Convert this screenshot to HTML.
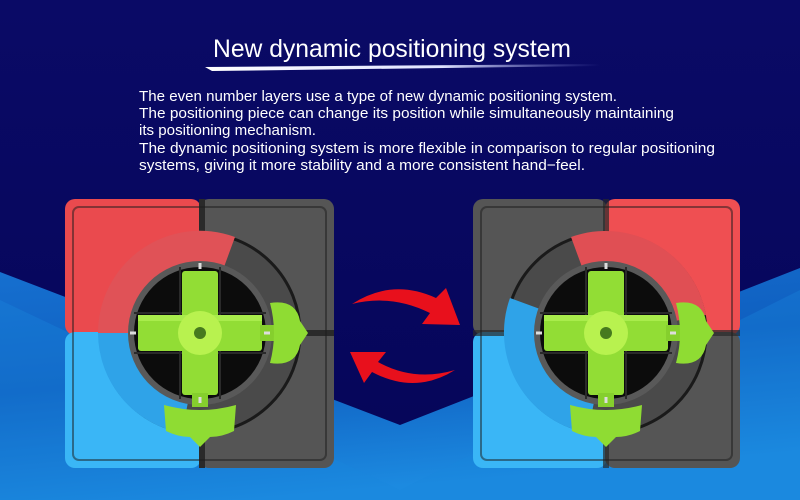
<!DOCTYPE html>
<html><head><meta charset="utf-8"><style>
html,body{margin:0;padding:0;background:#06065e;}
svg{display:block;}
</style></head><body>
<svg width="800" height="500" viewBox="0 0 800 500" xmlns="http://www.w3.org/2000/svg" font-family="Liberation Sans, sans-serif">
<defs>
<linearGradient id="bg" x1="0" y1="0" x2="0" y2="1">
<stop offset="0" stop-color="#0a0a66"/><stop offset="1" stop-color="#050558"/>
</linearGradient>
<linearGradient id="lb" x1="0" y1="0" x2="0.3" y2="1">
<stop offset="0" stop-color="#1670d0"/><stop offset="0.5" stop-color="#0f5fc0"/><stop offset="1" stop-color="#1c8ae0"/>
</linearGradient>
<linearGradient id="ul" x1="0" y1="0" x2="1" y2="0">
<stop offset="0" stop-color="#fff"/><stop offset="0.6" stop-color="#dfe3ff"/><stop offset="1" stop-color="#8a90e0" stop-opacity="0"/>
</linearGradient>
<g id="ring">
  <circle r="100" fill="#4a4a4a" stroke="#1a1a1a" stroke-width="3"/>
</g>
<g id="inner">
  <circle r="72" fill="#595959"/>
  <circle r="66" fill="#0c0c0c"/>
  <path d="M-66,-20 H66 M-66,20 H66 M-20,-66 V66 M20,-66 V66" stroke="#2a2a2a" stroke-width="2"/>
  <rect x="-62" y="-18" width="124" height="36" rx="3" fill="#92dd35"/>
  <rect x="-18" y="-62" width="36" height="124" rx="3" fill="#92dd35"/>
  <rect x="-62" y="-18" width="124" height="6" fill="#a9ec4c"/>
  <circle r="22" fill="#b8f24f"/>
  <circle r="6" fill="#467a1e"/>
  <rect x="60" y="-8" width="14" height="16" fill="#85cf2d"/>
  <rect x="-8" y="60" width="16" height="14" fill="#85cf2d"/>
  <path d="M70,-30 Q96,-34 100,-12 L108,0 L100,12 Q96,34 70,30 Q78,0 70,-30Z" fill="#8fdc33"/>
  <path d="M-36,72 Q0,82 36,72 L34,98 Q22,104 10,104 L0,114 L-10,104 Q-22,104 -34,98Z" fill="#8fdc33"/>
  <rect x="-1.5" y="-70" width="3" height="6" fill="#ddd"/>
  <rect x="-1.5" y="64" width="3" height="6" fill="#ddd"/>
  <rect x="-70" y="-1.5" width="6" height="3" fill="#ddd"/>
  <rect x="64" y="-1.5" width="6" height="3" fill="#ddd"/>
</g>
</defs>
<rect width="800" height="500" fill="url(#bg)"/>
<polygon points="0,272 400,425 800,268 800,500 0,500" fill="url(#lb)"/>
<polygon points="0,500 0,300 400,490 800,290 800,500" fill="#1a86dc" opacity="0.35"/>

<text x="392" y="57" fill="#fff" font-size="25" text-anchor="middle" textLength="358" lengthAdjust="spacingAndGlyphs">New dynamic positioning system</text>
<path d="M205,67 L600,64 L600,66 L212,71 Z" fill="url(#ul)"/>
<g fill="#fff" font-size="15">
<text x="139" y="101" textLength="478" lengthAdjust="spacingAndGlyphs">The even number layers use a type of new dynamic positioning system.</text>
<text x="139" y="118" textLength="535" lengthAdjust="spacingAndGlyphs">The positioning piece can change its position while simultaneously maintaining</text>
<text x="139" y="135" textLength="177" lengthAdjust="spacingAndGlyphs">its positioning mechanism.</text>
<text x="139" y="153" textLength="576" lengthAdjust="spacingAndGlyphs">The dynamic positioning system is more flexible in comparison to regular positioning</text>
<text x="139" y="170" textLength="446" lengthAdjust="spacingAndGlyphs">systems, giving it more stability and a more consistent hand−feel.</text>
</g>

<!-- Left cube -->
<g transform="translate(200,333)">
  <rect x="-135" y="-134" width="136" height="136" rx="10" fill="#ea4a4e"/>
  <rect x="-135" y="-1" width="136" height="136" rx="10" fill="#3ab6f6"/>
  <rect x="-1" y="-134" width="135" height="269" rx="10" fill="#555"/>
  <rect x="-1" y="-134" width="6" height="269" fill="#2a2a2a"/>
  <rect x="-1" y="-3" width="135" height="6" fill="#2a2a2a"/>
  <rect x="-127" y="-126" width="253" height="253" rx="6" fill="none" stroke="#1c1c1c" stroke-opacity="0.5" stroke-width="2"/>
  <use href="#ring"/>
  <path d="M-102,0 A102,102 0 0 1 35,-96 L24,-66 A70,70 0 0 0 -70,0Z" fill="#e05257"/>
  <path d="M-102,0 A102,102 0 0 0 -18,100 L-12,69 A70,70 0 0 1 -70,0Z" fill="#2fa3e8"/>
  <use href="#inner"/>
</g>

<!-- Right cube -->
<g transform="translate(606,333)">
  <rect x="-133" y="-134" width="134" height="136" rx="10" fill="#555"/>
  <rect x="-1" y="-134" width="135" height="136" rx="10" fill="#ef4f52"/>
  <rect x="-133" y="-1" width="134" height="136" rx="10" fill="#3ab6f6"/>
  <rect x="-1" y="-1" width="135" height="136" rx="10" fill="#555"/>
  <rect x="-3" y="-134" width="6" height="269" fill="#2a2a2a" opacity="0.7"/>
  <rect x="-133" y="-3" width="267" height="6" fill="#2a2a2a" opacity="0.7"/>
  <rect x="-125" y="-126" width="251" height="253" rx="6" fill="none" stroke="#1c1c1c" stroke-opacity="0.5" stroke-width="2"/>
  <use href="#ring"/>
  <path d="M-35,-96 A102,102 0 0 1 100,-18 L69,-12 A70,70 0 0 0 -24,-66Z" fill="#e04f54"/>
  <path d="M-96,-35 A102,102 0 0 0 -18,100 L-12,69 A70,70 0 0 1 -66,-24Z" fill="#2fa3e8"/>
  <use href="#inner"/>
</g>

<!-- Arrows -->
<path d="M352,304 Q392,278 436,298 L446,288 L460,325 L422,324 L430,313 Q392,294 352,304Z" fill="#e8101c"/>
<path d="M455,370 Q415,395 372,372 L364,383 L350,352 L386,352 L378,362 Q414,382 455,370Z" fill="#e8101c"/>
</svg>
</body></html>
